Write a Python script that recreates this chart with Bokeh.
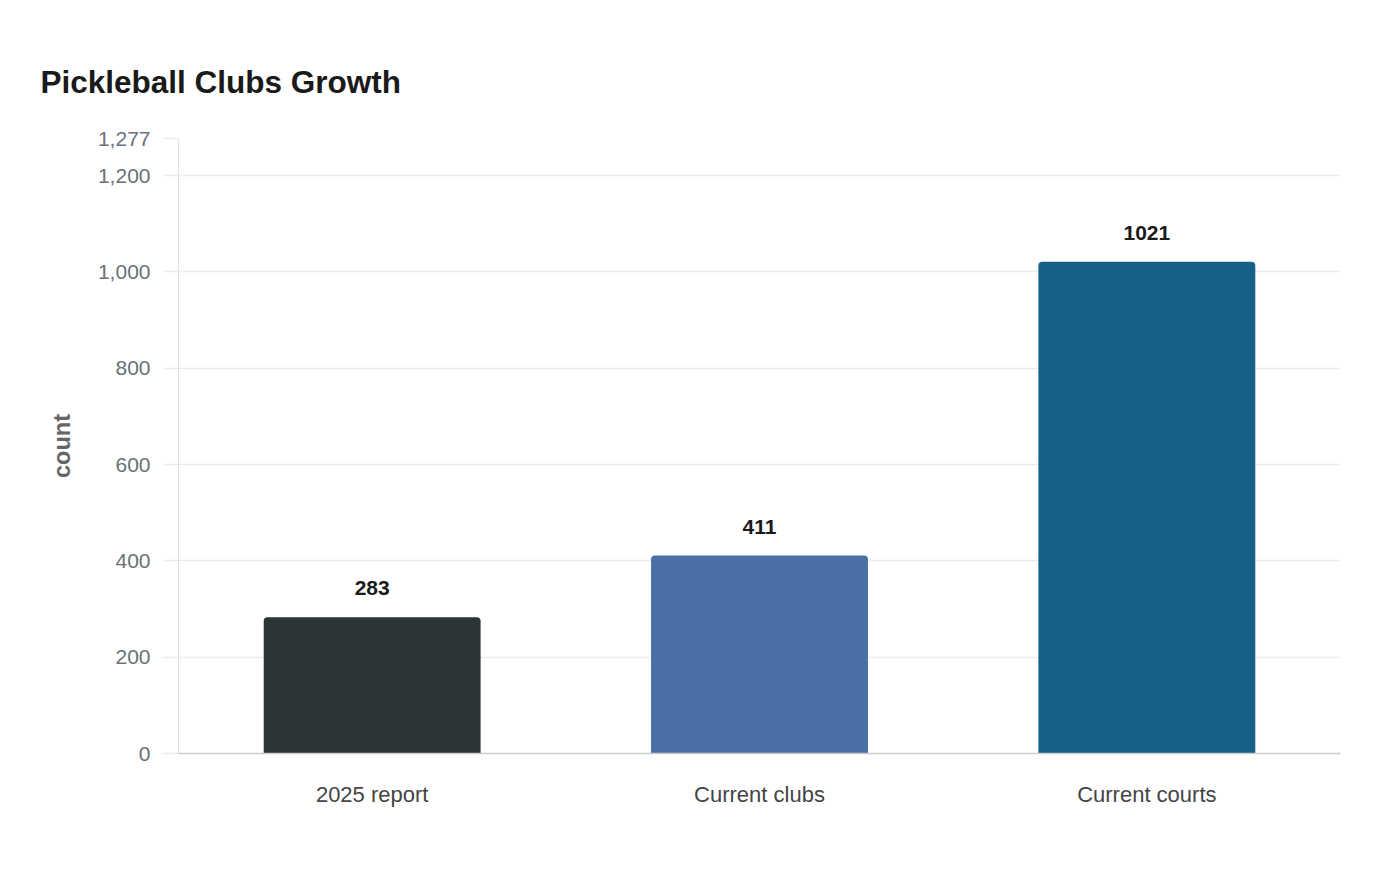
from bokeh.plotting import figure
from bokeh.models import ColumnDataSource, FixedTicker, NumeralTickFormatter, Range1d, LabelSet
from bokeh.core.properties import value
from bokeh.embed import file_html
from bokeh.resources import INLINE

categories = ["2025 report", "Current clubs", "Current courts"]
values = [283, 411, 1021]
colors = ["#2d3436", "#4a6fa5", "#166088"]
y_ticks = [0, 200, 400, 600, 800, 1000, 1200, 1277]
y_max = 1277

src = ColumnDataSource(dict(cat=categories, val=values, color=colors,
                            lbl=[str(v) for v in values]))

p = figure(x_range=categories, y_range=Range1d(0, y_max), width=1384, height=864,
           output_backend="svg", toolbar_location=None,
           min_border_left=178, min_border_right=44, min_border_top=138, min_border_bottom=111)

p.vbar(x="cat", top="val", width=0.56, fill_color="color", line_color=None,
       border_radius=(4, 4, 0, 0), source=src)

labels = LabelSet(x="cat", y="val", text="lbl", source=src, text_align="center",
                  text_baseline="bottom", y_offset=22, text_font=value("Liberation Sans"),
                  text_font_style="bold", text_font_size="21px", text_color="#1a1a1a")
p.add_layout(labels)

p.title.text = "Pickleball Clubs Growth"
p.title.text_font = "Liberation Sans"
p.title.text_font_size = "31.5px"
p.title.text_font_style = "bold"
p.title.text_color = "#1a1a1a"
p.title.offset = -138
p.title.standoff = 77

p.outline_line_color = None
p.xgrid.grid_line_color = None
p.ygrid.grid_line_color = "#ececec"
p.ygrid.grid_line_width = 1.5

ya = p.yaxis[0]
ya.ticker = FixedTicker(ticks=y_ticks)
ya.formatter = NumeralTickFormatter(format="0,0")
ya.axis_line_color = "#d0d0d0"
ya.axis_line_dash = "2 1"
ya.major_tick_line_color = "#ececec"
ya.major_tick_line_width = 1.5
ya.major_tick_out = 15
ya.major_tick_in = 0
ya.minor_tick_line_color = None
ya.major_label_standoff = 13
ya.major_label_text_font = "Liberation Sans"
ya.major_label_text_font_size = "21px"
ya.major_label_text_color = "#6b7079"
ya.axis_label = "count"
ya.axis_label_text_font = "Liberation Sans"
ya.axis_label_text_font_style = "bold"
ya.axis_label_text_font_size = "23.5px"
ya.axis_label_text_color = "#666666"
ya.axis_label_standoff = 20

xa = p.xaxis[0]
xa.axis_line_color = "#cccccc"
xa.axis_line_width = 1.5
xa.major_tick_line_color = None
xa.major_tick_out = 0
xa.major_tick_in = 0
xa.major_label_standoff = 28
xa.major_label_text_font = "Liberation Sans"
xa.major_label_text_font_size = "22px"
xa.major_label_text_color = "#444444"

open("out.html", "w").write(file_html(p, INLINE))
